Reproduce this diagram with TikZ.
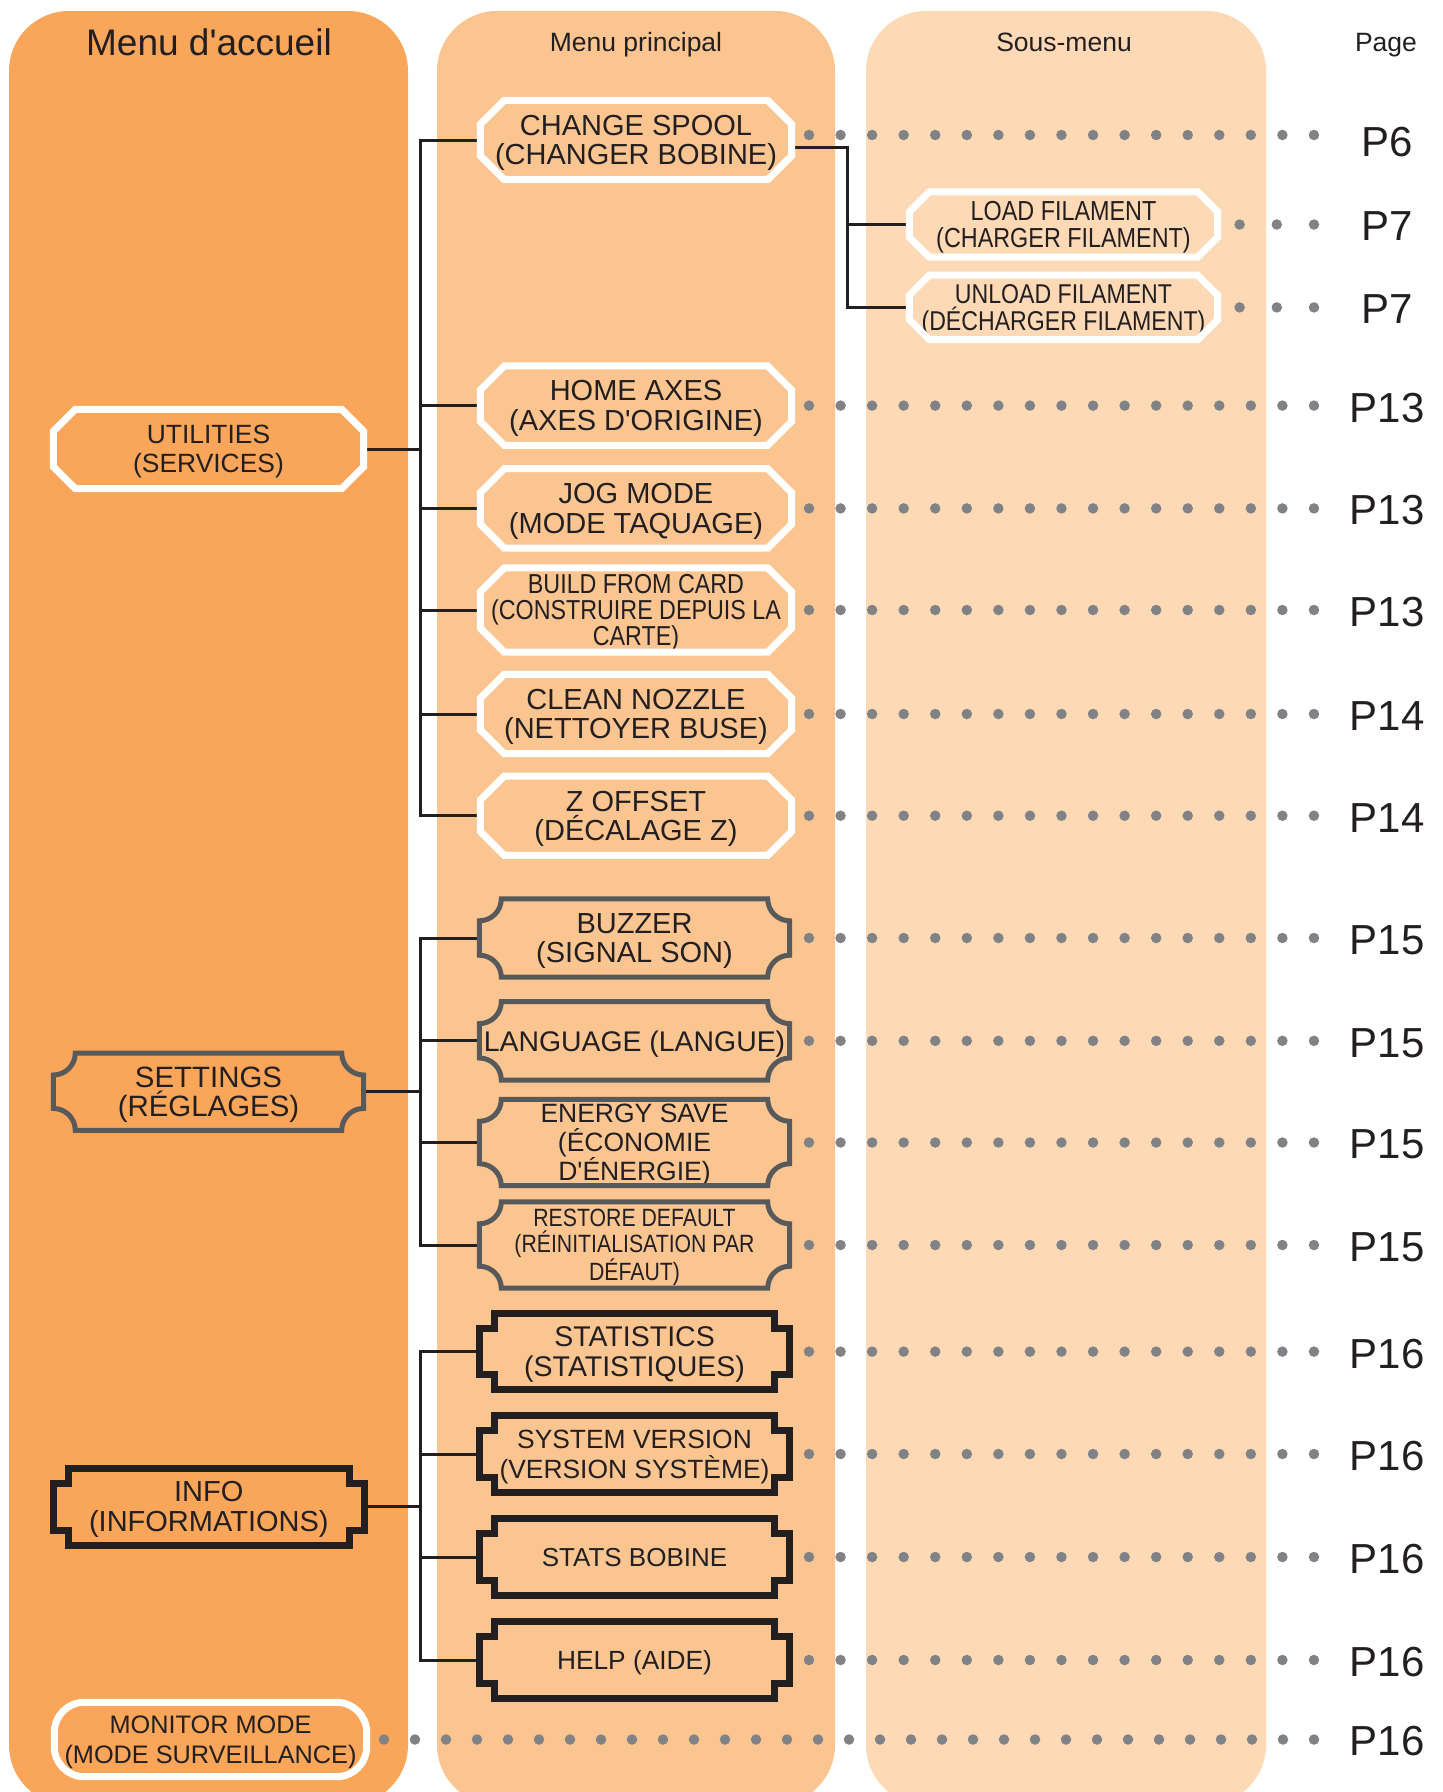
\documentclass[tikz,border=0pt]{standalone}
\usepackage{fontspec}
\setmainfont{Liberation Sans}
\newfontfamily\menufont{Liberation Sans}
\newfontfamily\narrowfont[FakeStretch=0.85]{Liberation Sans}
\usetikzlibrary{calc}
\definecolor{menuDeep}{HTML}{F9A65A}
\definecolor{menuMid}{HTML}{FBC591}
\definecolor{menuPale}{HTML}{FDD9B6}
\definecolor{menuInk}{HTML}{231F20}
\definecolor{menuGrey}{HTML}{58595B}
\definecolor{menuDot}{HTML}{808285}
\newcommand{\fs}[2]{\menufont\fontsize{#1}{#2}\selectfont}
\newcommand{\nfs}[2]{\narrowfont\fontsize{#1}{#2}\selectfont}

\begin{document}
\begin{tikzpicture}[x=1pt,y=-1pt]
\tikzstyle{item}=[inner sep=0pt,align=center,text=menuInk,text depth=0pt,minimum width=310pt,minimum height=79pt]
\tikzstyle{head}=[text=menuInk,anchor=base,font=\fs{26.5}{30}]
\tikzstyle{page}=[text=menuInk,font=\fs{42}{42}]
\tikzstyle{wire}=[draw=menuInk,line width=3pt]
\tikzstyle{leader}=[draw=menuDot,line width=10.5pt,line cap=round,dash pattern=on 0pt off 31.56pt]
\tikzstyle{octline}=[draw=white,line width=7pt]
\tikzstyle{scallop}=[draw=menuGrey,line width=5pt]
\tikzstyle{notch}=[draw=menuInk,line width=7pt]
\useasboundingbox (0,0) rectangle (1443,1792);
\clip (0,0) rectangle (1443,1792);
\fill[menuDeep,rounded corners=60pt] (9,11) rectangle (408,1805);
\fill[menuMid,rounded corners=60pt] (437,11) rectangle (835,1805);
\fill[menuPale,rounded corners=60pt] (866,11) rectangle (1266,1805);

\node[head,font=\fs{37}{40}] (hHome) at (209,55) {Menu d'accueil};
\node[head] (hMain) at (636,51.5) {Menu principal};
\node[head] (hSub) at (1064,51.5) {Sous-menu};
\node[head] (hPage) at (1386,51.5) {Page};

\node[item,font=\fs{26.4}{28.6}] (util) at (208.5,449) {UTILITIES\\(SERVICES)};
\node[item,minimum height=77pt,font=\fs{29.4}{29.7}] (settings) at (208.5,1091.7) {SETTINGS\\(RÉGLAGES)};
\node[item,minimum height=77pt,font=\fs{29}{29.7}] (info) at (208.8,1506.7) {INFO\\(INFORMATIONS)};
\node[item,minimum width=312pt,minimum height=74pt,font=\fs{25.3}{29.7}] (monitor) at (210.5,1739.5) {MONITOR MODE\\(MODE SURVEILLANCE)};

\node[item,minimum width=311pt,font=\fs{29}{28.6}] (spool) at (636,140) {CHANGE SPOOL\\(CHANGER BOBINE)};
\node[item,minimum width=311pt,font=\fs{29}{29.5}] (home) at (636,405.6) {HOME AXES\\(AXES D'ORIGINE)};
\node[item,minimum width=311pt,font=\fs{29}{29.5}] (jog) at (636,508.4) {JOG MODE\\(MODE TAQUAGE)};
\node[item,minimum width=311pt,minimum height=84pt,font=\nfs{27.4}{26.3}] (build) at (636,610) {BUILD FROM CARD\\(CONSTRUIRE DEPUIS LA\\CARTE)};
\node[item,minimum width=311pt,font=\fs{29}{29.5}] (clean) at (636,714) {CLEAN NOZZLE\\(NETTOYER BUSE)};
\node[item,minimum width=311pt,font=\fs{29}{29.5}] (zoff) at (636,815.7) {Z OFFSET\\(DÉCALAGE Z)};

\node[item,minimum height=78pt,font=\fs{29}{28.6}] (buzzer) at (634.5,938) {BUZZER\\(SIGNAL SON)};
\node[item,minimum height=78pt,font=\fs{28.4}{28}] (lang) at (634.5,1040.8) {LANGUAGE (LANGUE)};
\node[item,minimum height=86pt,font=\fs{26.5}{29}] (energy) at (634.5,1142.5) {ENERGY SAVE\\(ÉCONOMIE\\D'ÉNERGIE)};
\node[item,minimum height=86pt,font=\nfs{25}{26.3}] (restore) at (634.5,1245) {RESTORE DEFAULT\\(RÉINITIALISATION PAR\\DÉFAUT)};

\node[item,minimum height=76pt,font=\fs{28.5}{29.7}] (stats) at (634.5,1351.6) {STATISTICS\\(STATISTIQUES)};
\node[item,minimum height=76pt,font=\fs{26.4}{29.7}] (sysver) at (634.5,1454) {SYSTEM VERSION\\(VERSION SYSTÈME)};
\node[item,minimum height=76pt,font=\fs{26}{28}] (bobine) at (634.5,1557) {STATS BOBINE};
\node[item,minimum height=76pt,font=\fs{26.3}{28}] (help) at (634.5,1660) {HELP (AIDE)};

\node[item,minimum width=308pt,minimum height=65pt,font=\nfs{27.5}{27.4}] (load) at (1063.5,224.5) {LOAD FILAMENT\\(CHARGER FILAMENT)};
\node[item,minimum width=308pt,minimum height=64pt,font=\nfs{27.2}{27.4}] (unload) at (1063.5,307.4) {UNLOAD FILAMENT\\(DÉCHARGER FILAMENT)};

\coordinate (ubus) at (420.5,0);
\coordinate (sbus) at (847,0);
\draw[wire] (spool.west) -- (ubus |- spool.west) -- (ubus |- zoff.west) -- (zoff.west);
\draw[wire] (buzzer.west) -- (ubus |- buzzer.west) -- (ubus |- restore.west) -- (restore.west);
\draw[wire] (stats.west) -- (ubus |- stats.west) -- (ubus |- help.west) -- (help.west);
\foreach \n in {home,jog,build,clean,lang,energy,stats,sysver,bobine}{\draw[wire] (ubus |- \n.west) -- (\n.west);}
\foreach \n in {util,settings,info}{\draw[wire] (\n.east) -- (\n.east -| ubus);}
\draw[wire] ($(spool.east)+(0pt,-7pt)$) -- ($(spool.east -| sbus)+(0pt,-7pt)$) -- (sbus |- unload.west) -- (unload.west);
\draw[wire] (sbus |- load.west) -- (load.west);

\foreach \n/\c in {util/22,spool/24,home/24,jog/24,build/24,clean/24,zoff/24,load/20,unload/20}{
\draw[octline] ([xshift=\c pt]\n.north west) -- ([xshift=-\c pt]\n.north east) -- ([yshift=-\c pt]\n.north east) -- ([yshift=\c pt]\n.south east) -- ([xshift=-\c pt]\n.south east) -- ([xshift=\c pt]\n.south west) -- ([yshift=\c pt]\n.south west) -- ([yshift=-\c pt]\n.north west) -- cycle;}
\foreach \n in {settings,buzzer,lang,energy,restore}{
\draw[scallop] ([xshift=22pt]\n.north west) -- ([xshift=-22pt]\n.north east) arc[start angle=180,end angle=270,radius=22pt] -- ([yshift=22pt]\n.south east) arc[start angle=90,end angle=180,radius=22pt] -- ([xshift=22pt]\n.south west) arc[start angle=0,end angle=90,radius=22pt] -- ([yshift=-22pt]\n.north west) arc[start angle=270,end angle=360,radius=22pt] -- cycle;}
\foreach \n in {info,stats,sysver,bobine,help}{
\draw[notch] ([xshift=15pt]\n.north west) -- ([xshift=-15pt]\n.north east) -- ++(0pt,-15pt) -- ++(15pt,0pt) -- ([yshift=15pt]\n.south east) -- ++(-15pt,0pt) -- ++(0pt,-15pt) -- ([xshift=15pt]\n.south west) -- ++(0pt,15pt) -- ++(-15pt,0pt) -- ([yshift=-15pt]\n.north west) -- ++(15pt,0pt) -- cycle;}
\draw[octline,rounded corners=30pt] (monitor.north west) rectangle (monitor.south east);

\coordinate (lstart) at (809,0);
\coordinate (sstart) at (1239.6,0);
\coordinate (mstart) at (384,0);
\coordinate (lend) at (1316,0);
\coordinate (pcol) at (1387,0);
\draw[leader] ($(spool -| lstart)+(0pt,5pt)$) -- ($(spool -| lend)+(0pt,5pt)$);
\foreach \n in {home,jog,build,clean,zoff,buzzer,lang,energy,restore,stats,sysver,bobine,help}{\draw[leader] (\n -| lstart) -- (\n -| lend);}
\foreach \n in {load,unload}{\draw[leader,dash pattern=on 0pt off 37.2pt] (\n -| sstart) -- (\n -| lend);}
\draw[leader,dash pattern=on 0pt off 31pt] (monitor -| mstart) -- (monitor -| lend);

\foreach \n/\t in {spool/P6,load/P7,unload/P7,home/P13,jog/P13,build/P13,clean/P14,zoff/P14,buzzer/P15,lang/P15,energy/P15,restore/P15,stats/P16,sysver/P16,bobine/P16,help/P16,monitor/P16}{\node[page] (pg\n) at ($(\n -| pcol)+(0pt,-2pt)$) {\t};}
\end{tikzpicture}
\end{document}
